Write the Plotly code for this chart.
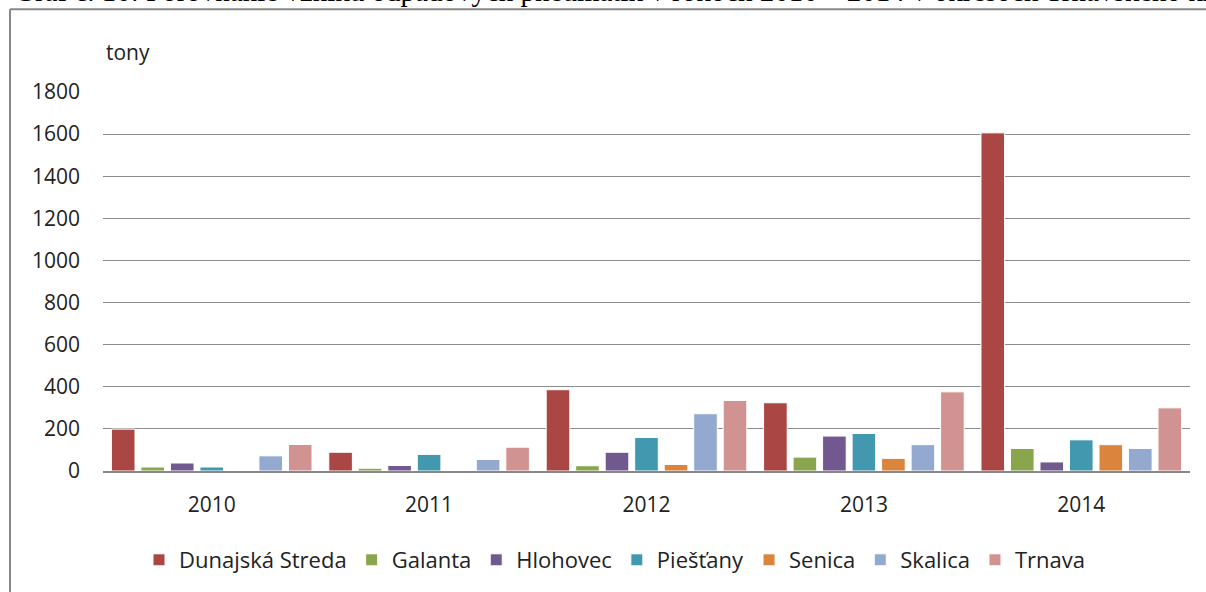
import plotly.graph_objects as go

years = ["2010", "2011", "2012", "2013", "2014"]
districts = ["Dunajská Streda", "Galanta", "Hlohovec", "Piešťany", "Senica", "Skalica", "Trnava"]
dunajska_streda = [199, 89, 386, 324, 1606]
galanta = [19, 13, 25, 66, 107]
hlohovec = [38, 26, 89, 166, 43]
piestany = [19, 79, 159, 178, 148]
senica = [0, 0, 31, 60, 125]
skalica = [72, 55, 272, 125, 107]
trnava = [126, 113, 335, 376, 300]
series = [dunajska_streda, galanta, hlohovec, piestany, senica, skalica, trnava]
colors = ["#AA4643", "#89A54E", "#71588F", "#4198AF", "#DB843D", "#93A9CF", "#D19392"]
y_ticks = [0, 200, 400, 600, 800, 1000, 1200, 1400, 1600, 1800]
caption = "Graf č. 10: Porovnanie vzniku odpadových pneumatík v rokoch 2010 – 2014 v okresoch Trnavského kraja"

font_family = "'Open Sans', Lato, sans-serif"

fig = go.Figure()
for name, vals, col in zip(districts, series, colors):
    fig.add_trace(go.Bar(
        x=years, y=vals, name=name,
        marker=dict(color=col, line=dict(color="white", width=1)),
    ))

L, R, T, B = 103, 16, 92, 120
W, H = 1206, 592
pw = W - L - R
ph = H - T - B


def px_x(px):
    return (px - L) / pw


def px_y(py):
    return (H - B - py) / ph


fig.update_layout(
    width=W, height=H,
    margin=dict(l=L, r=R, t=T, b=B),
    paper_bgcolor="white", plot_bgcolor="white",
    barmode="group", bargap=0.05, bargroupgap=0.2,
    font=dict(family=font_family, size=21, color="#222"),
    showlegend=True,
    legend=dict(orientation="h", x=px_x(615), xanchor="center", y=px_y(560), yanchor="middle",
                font=dict(size=22), itemwidth=30, traceorder="normal"),
    xaxis=dict(showgrid=False, showline=True, linecolor="#888", linewidth=1.5,
               ticks="", tickfont=dict(size=21), ticklabelstandoff=14),
    yaxis=dict(range=[0, 1800], tickvals=y_ticks, showgrid=True, gridcolor="#8c8c8c",
               gridwidth=1.3, zeroline=False, showline=False, ticks="",
               tickfont=dict(size=21), ticklabelstandoff=22),
    annotations=[
        dict(text="tony", xref="paper", yref="paper", x=px_x(104), y=px_y(52),
             xanchor="left", yanchor="middle", showarrow=False, font=dict(size=21)),
        dict(text=caption, xref="paper", yref="paper", x=px_x(12), y=px_y(9),
             xanchor="left", yanchor="bottom", showarrow=False,
             font=dict(family="'Liberation Serif', serif", size=29, color="black")),
    ],
    shapes=[
        dict(type="line", xref="paper", yref="paper", x0=px_x(10), x1=px_x(1215),
             y0=px_y(9), y1=px_y(9), line=dict(color="#888", width=2)),
        dict(type="line", xref="paper", yref="paper", x0=px_x(10), x1=px_x(10),
             y0=px_y(9), y1=px_y(600), line=dict(color="#888", width=2)),
    ],
)

fig.write_html("out.html", config={"displayModeBar": False},
               post_script="document.body.style.margin='0';document.body.style.overflow='hidden';")
